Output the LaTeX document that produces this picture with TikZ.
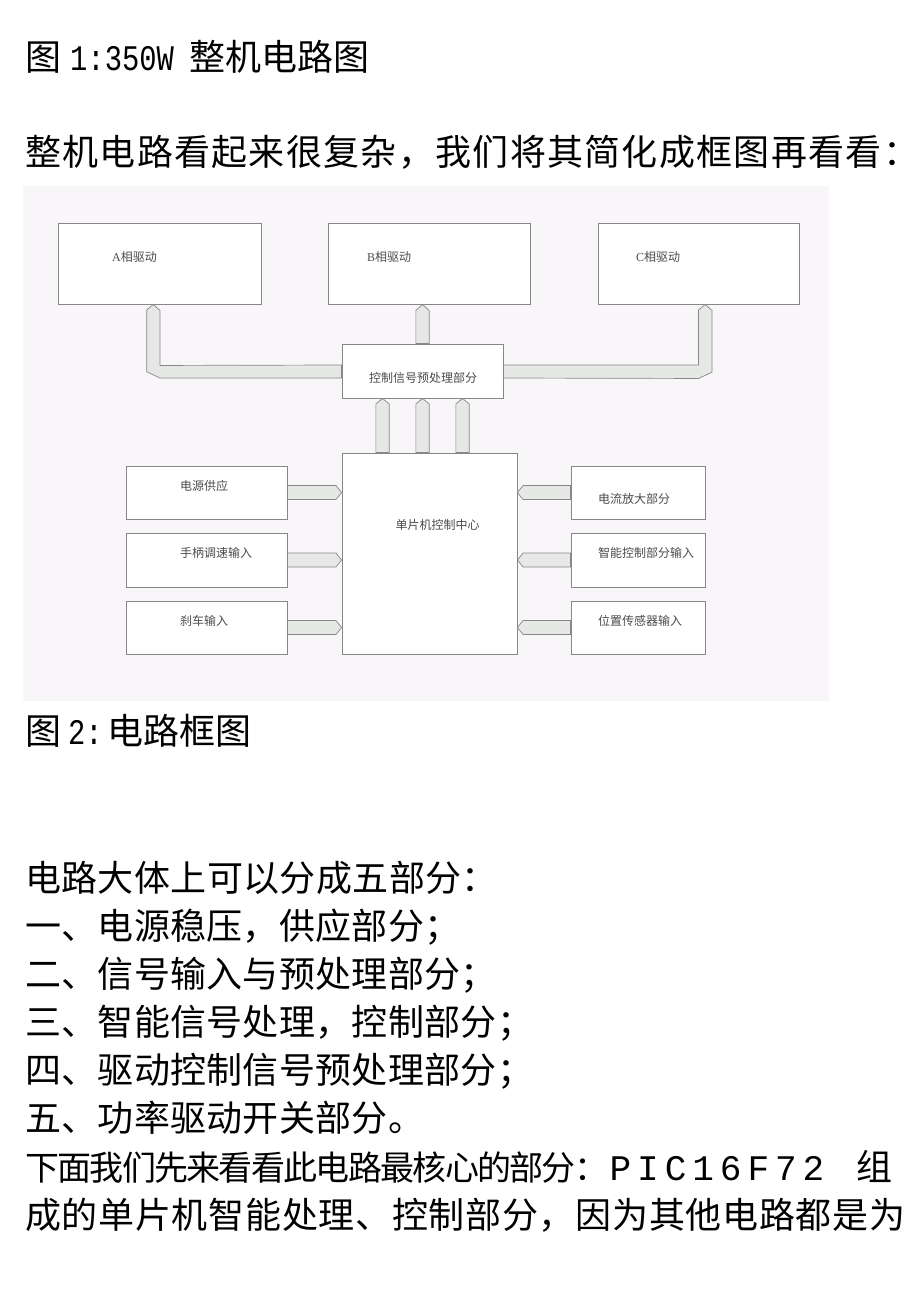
\documentclass[tikz,border=0pt]{standalone}
\usepackage{fontspec}
\setmainfont{Liberation Serif}
\newfontfamily\cjk{Noto Sans CJK SC}
\newfontfamily\lmono{Liberation Mono}
\usetikzlibrary{calc}
\definecolor{bgtint}{RGB}{248,246,248}
\definecolor{boxline}{RGB}{135,135,135}
\definecolor{arrfill}{RGB}{230,232,230}
\definecolor{labelgray}{RGB}{75,75,75}
\newcommand\mypitch{36pt}
\def\spacedloop#1{\ifx#1\relax\else\makebox[\mypitch][l]{#1}\expandafter\spacedloop\fi}
\newcommand\spaced[2]{\def\mypitch{#1}\spacedloop#2\relax}
\newcommand\latpart[1]{\scalebox{0.8}[1]{\lmono #1}}
\tikzset{
  body/.style={anchor=base west, inner sep=0pt, font=\cjk\fontsize{36pt}{40pt}\selectfont, text=black},
  blk/.style={draw=boxline, line width=0.9pt, fill=white, inner sep=0pt},
  lbl/.style={inner sep=0pt, font=\cjk\fontsize{12pt}{14pt}\selectfont, text=labelgray},
  arr/.style={draw=boxline, line width=0.7pt, fill=arrfill, line join=miter}
}
\begin{document}
\begin{tikzpicture}[x=1pt,y=-1pt]
\useasboundingbox (0,0) rectangle (920,1302);
\fill[white] (0,0) rectangle (920,1302);
% body text
\node[body] (t1) at (25,70) {\spaced{36pt}{图}\hspace{9pt}\latpart{1:350W}\hspace{16pt}\spaced{36pt}{整机电路图}};
\node[body] (t2) at (25,165) {\spaced{37.3pt}{整机电路看起来很复杂，我们将其简化成框图再看看：}};
% diagram background
\fill[bgtint] (23,186) rectangle (829,701);
% boxes
\node[blk, minimum width=203pt, minimum height=81pt] (A) at (159.5,263.5) {};
\node[blk, minimum width=202pt, minimum height=81pt] (B) at (429,263.5) {};
\node[blk, minimum width=201pt, minimum height=81pt] (C) at (698.5,263.5) {};
\node[blk, minimum width=161pt, minimum height=54pt] (ctrl) at (422.5,371) {};
\node[blk, minimum width=175pt, minimum height=201pt] (mcu) at (429.5,553.5) {};
\node[blk, minimum width=161pt, minimum height=53pt] (L1) at (206.5,492.5) {};
\node[blk, minimum width=161pt, minimum height=54pt] (L2) at (206.5,560) {};
\node[blk, minimum width=161pt, minimum height=53pt] (L3) at (206.5,627.5) {};
\node[blk, minimum width=134pt, minimum height=53pt] (R1) at (638,492.5) {};
\node[blk, minimum width=134pt, minimum height=54pt] (R2) at (638,560) {};
\node[blk, minimum width=134pt, minimum height=53pt] (R3) at (638,627.5) {};
% labels
\node[lbl, anchor=west] (lA) at (112,257) {{\rmfamily A}相驱动};
\node[lbl, anchor=west] (lB) at (367,257) {{\rmfamily B}相驱动};
\node[lbl, anchor=west] (lC) at (636,257) {{\rmfamily C}相驱动};
\node[lbl] (lctrl) at (423,378) {控制信号预处理部分};
\node[lbl] (lmcu) at (437.5,525) {单片机控制中心};
\node[lbl, anchor=west] (lL1) at (180,486) {电源供应};
\node[lbl, anchor=west] (lL2) at (180,553) {手柄调速输入};
\node[lbl, anchor=west] (lL3) at (180,621) {刹车输入};
\node[lbl, anchor=west] (lR1) at (598,499) {电流放大部分};
\node[lbl, anchor=west] (lR2) at (598,553) {智能控制部分输入};
\node[lbl, anchor=west] (lR3) at (598,621) {位置传感器输入};
% arrows ctrl -> A (elbow)
\draw[arr] ($(A.south)+(-6.2,0)$) -- ++(6.65,6) -- ++(0,55) -- (ctrl.west |- 0,365) -- (ctrl.west |- 0,378) -- (160,378) -- ++(-13.3,-6.3) -- ++(0,-61.7) -- cycle;
% ctrl -> B
\coordinate (tB) at (ctrl.north |- B.south);
\draw[arr] (tB) -- ++(6.65,6) -- ($(ctrl.north)+(6.65,0)$) -- ($(ctrl.north)+(-6.65,0)$) -- ($(tB)+(-6.65,6)$) -- cycle;
% ctrl -> C (elbow)
\draw[arr] ($(C.south)+(6.8,0)$) -- ++(6.7,6) -- ++(0,61.7) -- ++(-13.4,6.3) -- (ctrl.east |- 0,378) -- (ctrl.east |- 0,365) -- (698.5,365) -- (698.5,310) -- cycle;
% mcu -> ctrl
\foreach \dx [count=\i] in {-40,0,40}{
  \coordinate (tip\i) at ($(ctrl.south)+(\dx,0)$);
  \draw[arr] (tip\i) -- ++(6.65,5.5) -- ($(tip\i |- mcu.north)+(6.65,0)$) -- ($(tip\i |- mcu.north)+(-6.65,0)$) -- ($(tip\i)+(-6.65,5.5)$) -- cycle;
}
% left inputs -> mcu
\foreach \k in {L1,L2,L3}{
  \coordinate (tp) at (mcu.west |- \k.east);
  \draw[arr] ($(\k.east)+(0,-7)$) -- ($(tp)+(-5.6,-7)$) -- (tp) -- ($(tp)+(-5.6,7)$) -- ($(\k.east)+(0,7)$) -- cycle;
}
% right inputs -> mcu
\foreach \k in {R1,R2,R3}{
  \coordinate (tq) at (mcu.east |- \k.west);
  \draw[arr] ($(\k.west)+(0,-7)$) -- ($(tq)+(5.6,-7)$) -- (tq) -- ($(tq)+(5.6,7)$) -- ($(\k.west)+(0,7)$) -- cycle;
}
% lower text
\node[body] (t3) at (25,744) {\spaced{36pt}{图}\hspace{7pt}\latpart{2:}\hspace{5pt}\spaced{36pt}{电路框图}};
\node[body] (t4) at (25,891) {\spaced{36.4pt}{电路大体上可以分成五部分：}};
\node[body] (t5) at (25,939) {\spaced{36.3pt}{一、电源稳压，供应部分；}};
\node[body] (t6) at (25,987) {\spaced{36.3pt}{二、信号输入与预处理部分；}};
\node[body] (t7) at (25,1035) {\spaced{36.3pt}{三、智能信号处理，控制部分；}};
\node[body] (t8) at (25,1083) {\spaced{36.3pt}{四、驱动控制信号预处理部分；}};
\node[body] (t9) at (25,1131) {\spaced{36.3pt}{五、功率驱动开关部分。}};
\node[body] (t10) at (25,1180) {{\fontsize{34pt}{40pt}\selectfont\spaced{32.3pt}{下面我们先来看看此电路最核心的部分：}}\hspace{3pt}{\lmono\spaced{27.6pt}{PIC16F72}}\hspace{26pt}\spaced{36pt}{组}};
\node[body] (t11) at (25,1228) {\spaced{36.7pt}{成的单片机智能处理、控制部分，因为其他电路都是为}};
\end{tikzpicture}
\end{document}
